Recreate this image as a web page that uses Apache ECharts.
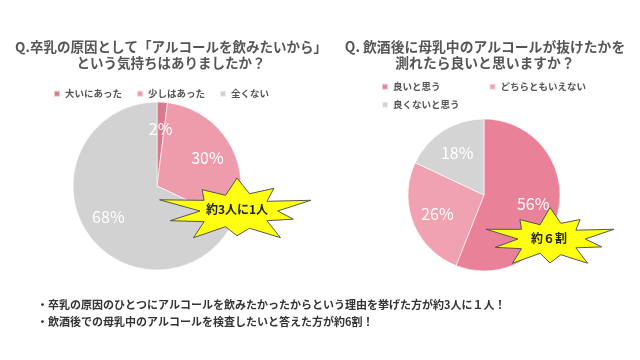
<!DOCTYPE html>
<html><head><meta charset="utf-8">
<script src="https://cdn.jsdelivr.net/npm/echarts@6/dist/echarts.min.js"></script>
<style>html,body{margin:0;padding:0;background:#fff}#c{width:640px;height:360px}</style>
</head><body><div id="c"></div>
<script>
const leftTitle = 'Q.卒乳の原因として「アルコールを飲みたいから」\nという気持ちはありましたか？';
const leftCats = ['大いにあった', '少しはあった', '全くない'];
const leftVals = [2, 30, 68];
const leftColors = ['#d97a8e', '#ee9cac', '#d2d2d2'];

const rightTitle = 'Q. 飲酒後に母乳中のアルコールが抜けたかを\n測れたら良いと思いますか？';
const rightCats = ['良いと思う', 'どちらともいえない', '良くないと思う'];
const rightVals = [56, 26, 18];
const rightColors = ['#e98299', '#f0a2b2', '#d4d4d4'];

const leftBurst = '約3人に1人';
const rightBurst = '約６割';
const notes = ['・卒乳の原因のひとつにアルコールを飲みたかったからという理由を挙げた方が約3人に１人！',
               '・飲酒後での母乳中のアルコールを検査したいと答えた方が約6割！'];

const FONT = '"Noto Sans CJK JP", "Noto Sans", sans-serif';

function starPoints(cx, cy, rx, ry, radii) {
  const n = radii.length, pts = [];
  for (let i = 0; i < n; i++) {
    const a = -Math.PI / 2 + i * 2 * Math.PI / n;
    const r = radii[i];
    pts.push([cx + Math.cos(a) * rx * r, cy + Math.sin(a) * ry * r]);
  }
  return pts;
}
const burstRadiiL = [1.0,0.55,0.85,0.5,1.05,0.55,0.8,0.5,1.0,0.55,0.75,0.5,1.0,0.55,0.95,0.5,1.1,0.55,0.8,0.5];
const burstRadiiR = [1.05,0.55,0.8,0.5,1.05,0.55,0.85,0.5,1.0,0.55,0.8,0.5,1.0,0.55,0.9,0.5,1.05,0.55,0.8,0.5];

const chart = echarts.init(document.getElementById('c'));
function pieSeries(name, cats, vals, colors, center, r, k) {
  return [{
    type: 'pie', name, center, radius: [0, r], startAngle: 90, clockwise: true,
    silent: true, animation: false,
    label: { show: false }, labelLine: { show: false },
    itemStyle: { borderColor: 'rgba(255,255,255,0.6)', borderWidth: 1 },
    data: cats.map((c, i) => ({ name: c, value: vals[i], itemStyle: { color: colors[i] } }))
  }, {
    type: 'pie', name: name + '-labels', center, radius: [0, r * k], startAngle: 90, clockwise: true,
    silent: true, animation: false, legendHoverLink: false,
    label: { position: 'inside', formatter: '{d}%', color: '#fff', fontSize: 16, fontFamily: FONT },
    labelLine: { show: false },
    itemStyle: { color: 'rgba(0,0,0,0)' },
    data: cats.map((c, i) => ({ name: c + ' ', value: vals[i] }))
  }];
}
const legendText = { fontSize: 9.5, color: '#555', fontFamily: FONT, fontWeight: 'bold' };
chart.setOption({
  animation: false,
  title: [
    { text: leftTitle, left: 166, top: 34, textAlign: 'center',
      textStyle: { fontSize: 13.5, fontWeight: 'bold', color: '#555', fontFamily: FONT, lineHeight: 16 } },
    { text: rightTitle, left: 480, top: 34, textAlign: 'center',
      textStyle: { fontSize: 13.8, fontWeight: 'bold', color: '#555', fontFamily: FONT, lineHeight: 16 } }
  ],
  legend: [
    { data: leftCats, left: 48, top: 84, itemWidth: 6, itemHeight: 6, itemGap: 14, icon: 'rect',
      textStyle: legendText },
    { data: rightCats.slice(0, 2), left: 376, top: 77, itemWidth: 6, itemHeight: 6, itemGap: 48, icon: 'rect',
      textStyle: legendText },
    { data: rightCats.slice(2), left: 376, top: 95, itemWidth: 6, itemHeight: 6, icon: 'rect',
      textStyle: legendText }
  ],
  series: [
    ...pieSeries('left', leftCats, leftVals, leftColors, [157, 186], 84, 1.3),
    ...pieSeries('right', rightCats, rightVals, rightColors, [484, 195], 76, 1.24)
  ],
  graphic: [
    { type: 'polygon', shape: { points: starPoints(237, 211, 74, 33, burstRadiiL) },
      style: { fill: '#ffff10', stroke: '#555', lineWidth: 1 }, z: 100 },
    { type: 'text', style: { text: leftBurst, x: 237, y: 209, textAlign: 'center', textVerticalAlign: 'middle',
      font: 'bold 12px ' + FONT, fill: '#222' }, z: 101 },
    { type: 'polygon', shape: { points: starPoints(550, 239, 64, 30, burstRadiiR) },
      style: { fill: '#ffff10', stroke: '#555', lineWidth: 1 }, z: 100 },
    { type: 'text', style: { text: rightBurst, x: 549, y: 238, textAlign: 'center', textVerticalAlign: 'middle',
      font: 'bold 12px ' + FONT, fill: '#222' }, z: 101 },
    { type: 'text', style: { text: notes[0], x: 37, y: 305, textVerticalAlign: 'middle',
      font: 'bold 11px ' + FONT, fill: '#333' } },
    { type: 'text', style: { text: notes[1], x: 37, y: 322, textVerticalAlign: 'middle',
      font: 'bold 11px ' + FONT, fill: '#333' } }
  ]
});
</script></body></html>
